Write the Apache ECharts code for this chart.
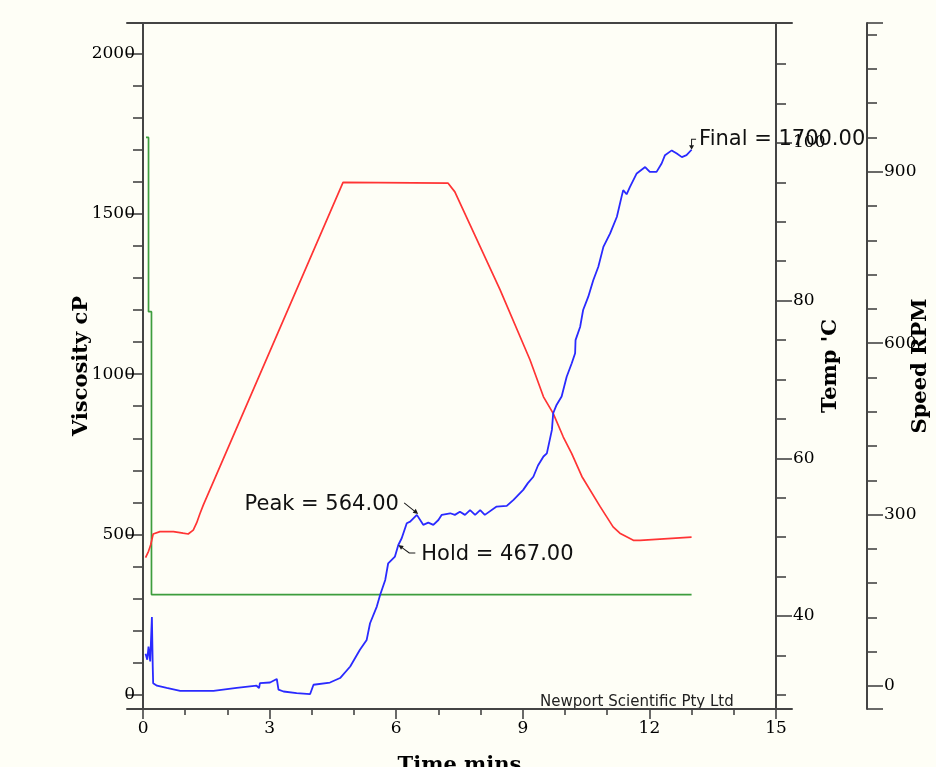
<!DOCTYPE html>
<html>
<head>
<meta charset="utf-8">
<script src="https://cdn.jsdelivr.net/npm/echarts@6/dist/echarts.min.js"></script>
<style>
html, body { margin: 0; padding: 0; background: #fefef6; }
#chart { width: 936px; height: 767px; }
</style>
</head>
<body>
<div id="chart"></div>
<script>
// Viscosity trace: time (min) and viscosity (cP)
const viscTime = [0.06, 0.10, 0.13, 0.17, 0.21, 0.23, 0.24, 0.33, 0.56, 0.88, 1.27, 1.67, 2.22, 2.69, 2.75, 2.77,
  3.01, 3.17, 3.21, 3.33, 3.64, 3.96, 4.00, 4.04, 4.43, 4.67, 4.91, 5.14, 5.30, 5.38, 5.54, 5.62, 5.74, 5.81,
  5.97, 6.05, 6.13, 6.25, 6.33, 6.49, 6.52, 6.64, 6.76, 6.88, 7.00, 7.08, 7.28, 7.39, 7.51, 7.63, 7.75, 7.87,
  7.99, 8.10, 8.38, 8.62, 8.78, 9.01, 9.12, 9.25, 9.36, 9.49, 9.57, 9.69, 9.72, 9.80, 9.92, 10.04, 10.16,
  10.24, 10.25, 10.36, 10.43, 10.55, 10.67, 10.79, 10.91, 11.07, 11.23, 11.34, 11.38, 11.46, 11.54, 11.70,
  11.90, 12.01, 12.17, 12.29, 12.37, 12.53, 12.65, 12.77, 12.88, 13.00];
const viscValues = [128, 109, 150, 104, 242, 88, 36, 28, 21, 12, 12, 12, 21, 28, 21, 36,
  38, 49, 16, 10, 5, 2, 5, 31, 38, 52, 88, 140, 171, 223, 275, 312, 358, 410,
  431, 467, 488, 535, 540, 561, 564, 530, 537, 530, 545, 561, 566, 561, 571, 561, 576, 561,
  576, 561, 587, 589, 608, 639, 660, 680, 715, 743, 753, 826, 878, 904, 930, 992, 1034,
  1065, 1106, 1148, 1200, 1241, 1293, 1335, 1397, 1439, 1491, 1553, 1574, 1561, 1584, 1626,
  1646, 1631, 1631, 1657, 1683, 1698, 1688, 1677, 1683, 1700];

// Temperature trace: time (min) and temperature (°C)
const tempTime = [0.06, 0.13, 0.18, 0.24, 0.40, 0.72, 0.95, 1.07, 1.19, 1.27, 1.35, 1.43, 4.74, 7.23,
  7.39, 7.51, 8.46, 9.17, 9.49, 9.72, 9.96, 10.16, 10.40, 10.83, 11.14, 11.30, 11.62, 11.78, 13.00];
const tempValues = [47.4, 48.2, 49.0, 50.4, 50.7, 50.7, 50.5, 50.4, 50.9, 51.8, 53.0, 54.1, 95.0, 94.9,
  93.8, 92.4, 81.4, 72.5, 67.8, 65.7, 62.7, 60.6, 57.7, 53.9, 51.3, 50.5, 49.6, 49.6, 50.0];

// Paddle speed profile: time (min) and speed (RPM)
const speedTime = [0.07, 0.13, 0.13, 0.20, 0.20, 13.00];
const speedValues = [960, 960, 655, 655, 160, 160];

// Axis ticks and labels
const timeTicks = [0, 3, 6, 9, 12, 15];
const timeMinorTicks = [1, 2, 4, 5, 7, 8, 10, 11, 13, 14];
const viscTicks = [0, 500, 1000, 1500, 2000];
const viscMinorTicks = [100, 200, 300, 400, 600, 700, 800, 900, 1100, 1200, 1300, 1400, 1600, 1700, 1800, 1900];
const tempTicks = [40, 60, 80, 100];
const tempMinorTicks = [30, 35, 45, 50, 55, 65, 70, 75, 85, 90, 95, 105, 110];
const speedTicks = [0, 300, 600, 900];
const speedMinorTicks = [60, 120, 180, 240, 360, 420, 480, 540, 660, 720, 780, 840, 960, 1020, 1080, 1140];

// Axis extents
const timeRange = [-0.38, 15.38];
const viscRange = [-44.6, 2095.4];
const tempRange = [28.2, 115.22];
const speedRange = [-40.3, 1160.3];

// Annotated readings on the viscosity trace
const peakReading = [6.52, 564];
const holdReading = [6.05, 467];
const finalReading = [13.0, 1700];

const BG = '#fefef6';
const AXIS_COLOR = '#444444';
const LABEL_FONT = 'DejaVu Serif';
const NAME_FONT = 'DejaVu Serif';
const NOTE_FONT = 'DejaVu Sans';

const zip = (xs, ys) => xs.map((x, i) => [x, ys[i]]);
const plain = (v) => String(v);

const axisLine = { show: true, onZero: false, lineStyle: { color: AXIS_COLOR, width: 2 } };
const noLine = { show: false, onZero: false };
const tickStyle = { color: AXIS_COLOR, width: 1.6 };
const labelStyle = { fontFamily: LABEL_FONT, fontSize: 17, color: '#000', formatter: plain };
const nameStyle = { fontFamily: NAME_FONT, fontSize: 21, fontWeight: 'bold', color: '#000' };

function majorY(range, ticks, extra) {
  return Object.assign({
    type: 'value', min: range[0], max: range[1], scale: true,
    nameMoveOverlap: false,
    axisLine: axisLine,
    axisTick: { show: true, length: 16, lineStyle: tickStyle, customValues: ticks },
    axisLabel: Object.assign({ show: true, customValues: ticks }, labelStyle),
    splitLine: { show: false }
  }, extra);
}
function minorY(range, ticks, extra) {
  return Object.assign({
    type: 'value', min: range[0], max: range[1], scale: true,
    axisLine: noLine,
    axisTick: { show: true, length: 10, lineStyle: tickStyle, customValues: ticks },
    axisLabel: { show: false },
    splitLine: { show: false }
  }, extra);
}

const chart = echarts.init(document.getElementById('chart'), null, { renderer: 'canvas' });

const option = {
  backgroundColor: BG,
  animation: false,
  grid: { left: 127, right: 144, top: 23, bottom: 58, containLabel: false, outerBoundsMode: 'none' },
  xAxis: [
    {
      type: 'value', min: timeRange[0], max: timeRange[1], position: 'bottom',
      name: 'Time mins', nameLocation: 'middle', nameGap: 46, nameMoveOverlap: false,
      nameTextStyle: nameStyle,
      axisLine: axisLine,
      axisTick: { show: true, length: 10, lineStyle: tickStyle, customValues: timeTicks },
      axisLabel: Object.assign({ show: true, customValues: timeTicks, margin: 11 }, labelStyle),
      splitLine: { show: false }
    },
    {
      type: 'value', min: timeRange[0], max: timeRange[1], position: 'bottom',
      axisLine: noLine,
      axisTick: { show: true, length: 6, lineStyle: tickStyle, customValues: timeMinorTicks },
      axisLabel: { show: false },
      splitLine: { show: false }
    },
    {
      type: 'value', min: timeRange[0], max: timeRange[1], position: 'top',
      axisLine: axisLine, axisTick: { show: false }, axisLabel: { show: false },
      splitLine: { show: false }
    }
  ],
  yAxis: [
    majorY(viscRange, viscTicks, {
      position: 'left', offset: -16,
      name: 'Viscosity cP', nameLocation: 'middle', nameGap: 51, nameTextStyle: nameStyle,
      axisLabel: Object.assign({ show: true, customValues: viscTicks, margin: 8 }, labelStyle)
    }),
    minorY(viscRange, viscMinorTicks, { position: 'left', offset: -16 }),
    majorY(tempRange, tempTicks, {
      position: 'right', offset: -16,
      name: "Temp 'C", nameLocation: 'middle', nameGap: 44, nameTextStyle: nameStyle,
      axisLabel: Object.assign({ show: true, customValues: tempTicks, margin: 17 }, labelStyle)
    }),
    minorY(tempRange, tempMinorTicks, { position: 'right', offset: -16 }),
    majorY(speedRange, [speedRange[0]].concat(speedTicks, [speedRange[1]]), {
      position: 'right', offset: 75,
      name: 'Speed RPM', nameLocation: 'middle', nameGap: 43, nameTextStyle: nameStyle,
      axisLabel: Object.assign({ show: true, customValues: speedTicks, margin: 17 }, labelStyle)
    }),
    minorY(speedRange, speedMinorTicks, { position: 'right', offset: 75 })
  ],
  graphic: [
    {
      type: 'text', left: 540, top: 695, silent: true,
      style: { text: 'Newport Scientific Pty Ltd', font: '15px "DejaVu Sans"', fill: '#222' }
    }
  ],
  series: [
    {
      name: 'Speed', type: 'line', xAxisIndex: 0, yAxisIndex: 4,
      data: zip(speedTime, speedValues), showSymbol: false, symbol: 'none',
      lineStyle: { color: '#3d9d3d', width: 1.7 }, z: 2
    },
    {
      name: 'Temp', type: 'line', xAxisIndex: 0, yAxisIndex: 2,
      data: zip(tempTime, tempValues), showSymbol: false, symbol: 'none',
      lineStyle: { color: '#ff3434', width: 1.7 }, z: 3
    },
    {
      name: 'Viscosity', type: 'line', xAxisIndex: 0, yAxisIndex: 0,
      data: zip(viscTime, viscValues), showSymbol: false, symbol: 'none',
      lineStyle: { color: '#2a2aff', width: 1.8 }, z: 4,
      markPoint: {
        z: 6,
        itemStyle: { color: '#1a1a1a' },
        label: { show: true, fontFamily: NOTE_FONT, fontSize: 21, color: '#111' },
        data: [
          {
            coord: peakReading,
            symbol: 'path://M0.31 -0.39 L10.38 7.52 L11.62 5.94 L14 11 L8.53 9.88 L9.76 8.3 L-0.31 0.39 Z',
            symbolSize: [14.3, 11.4], symbolOffset: [-7.15, -5.7],
            label: { position: 'left', distance: 5, offset: [0, -4],
              formatter: () => 'Peak = ' + peakReading[1].toFixed(2) }
          },
          {
            coord: holdReading,
            symbol: 'path://M0 0 L5.4 1.08 L4.34 2.54 L11.29 7.6 L17 7.6 L17 8.4 L10.71 8.4 L3.76 3.34 L2.7 4.8 Z',
            symbolSize: [17, 8.4], symbolOffset: [8.5, 4.2],
            label: { position: 'right', distance: 6, offset: [0, 5],
              formatter: () => 'Hold = ' + holdReading[1].toFixed(2) }
          },
          {
            coord: finalReading,
            symbol: 'path://M2 0 L7 0 L7 1 L3 1 L3 6.5 L5 6.5 L2.5 11 L0 6.5 L2 6.5 Z',
            symbolSize: [7, 11], symbolOffset: [1, -5.5],
            label: { position: 'right', distance: 3, offset: [0, -4.5],
              formatter: () => 'Final = ' + finalReading[1].toFixed(2) }
          }
        ]
      }
    }
  ]
};

chart.setOption(option);
</script>
</body>
</html>
